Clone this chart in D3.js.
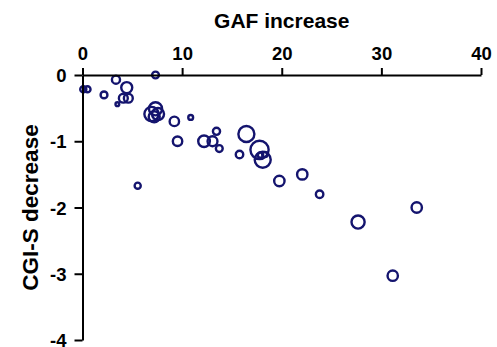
<!DOCTYPE html>
<html>
<head>
<meta charset="utf-8">
<script src="https://cdn.jsdelivr.net/npm/d3@7"></script>
<style>
  html, body { margin: 0; padding: 0; background: #fff; }
  svg text { font-family: Arial, "Liberation Sans", sans-serif; font-weight: bold; fill: #000; }
</style>
</head>
<body>
<svg id="chart" width="497" height="347"></svg>
<script>
// GAF increase (x)
const gafIncrease = [0.08, 0.5, 2.16, 3.36, 4.44, 4.1, 4.6, 3.5, 7.33, 6.93, 7.33, 7.58, 7.2,
  9.22, 10.86, 9.54, 12.2, 13.45, 13.05, 13.73, 16.45, 15.76, 17.77, 18.09, 17.87, 18.3,
  19.76, 22.06, 23.8, 27.66, 33.55, 31.14, 5.54];
// CGI-S decrease (y)
const cgisDecrease = [-0.215, -0.215, -0.30, -0.07, -0.19, -0.35, -0.35, -0.44, 0.0, -0.59, -0.51, -0.59, -0.63,
  -0.70, -0.64, -1.0, -1.0, -0.85, -1.0, -1.11, -0.89, -1.2, -1.13, -1.28, -1.21, -1.2,
  -1.6, -1.5, -1.8, -2.22, -2.0, -3.03, -1.67];
// study weight (bubble area)
const weights = [8, 8, 10, 14, 26, 17, 17, 3, 10, 44, 37, 31, 26,
  19, 5, 19, 29, 11, 21, 10, 55, 12, 71, 55, 6, 6,
  23, 23, 12, 37, 23, 23, 8];
const xTicks = [0, 10, 20, 30, 40];
const yTicks = [0, -1, -2, -3, -4];

const svg = d3.select("#chart");
const x = d3.scaleLinear().domain([0, 40]).range([82.5, 481]);
const y = d3.scaleLinear().domain([0, -4]).range([75, 340]);
const r = d3.scaleSqrt().domain([0, 100]).range([0, 10.8]);

const data = gafIncrease.map((g, i) => ({ x: g, y: cgisDecrease[i], w: weights[i] }));

// points
svg.append("g").selectAll("circle").data(data).join("circle")
  .attr("cx", d => x(d.x)).attr("cy", d => y(d.y)).attr("r", d => r(d.w))
  .attr("fill", "none").attr("stroke", "#14146e").attr("stroke-width", 2.4);

// x axis (top)
const xAxis = svg.append("g").attr("transform", `translate(0,${y(0)})`)
  .call(d3.axisTop(x).tickValues(xTicks).tickSizeInner(7).tickSizeOuter(0).tickPadding(8));
// y axis
const yAxis = svg.append("g").attr("transform", `translate(${x(0)},0)`)
  .call(d3.axisLeft(y).tickValues(yTicks).tickSizeInner(8).tickSizeOuter(0).tickPadding(8)
    .tickFormat(d => d === 0 ? "0" : "-" + Math.abs(d)));

[xAxis, yAxis].forEach(a => {
  a.select(".domain").attr("stroke", "#000").attr("stroke-width", 2);
  a.selectAll(".tick line").attr("stroke", "#000").attr("stroke-width", 2);
  a.selectAll(".tick text").attr("font-size", 18.5).attr("font-family", "Arial, 'Liberation Sans', sans-serif")
    .attr("font-weight", "bold").attr("fill", "#000");
});
yAxis.selectAll(".tick text").attr("dy", "0.36em");

// titles
svg.append("text").attr("x", (x(0) + x(40)) / 2).attr("y", 28)
  .attr("text-anchor", "middle").attr("font-size", 21).text("GAF increase");
svg.append("text").attr("transform", `translate(38,${(y(0) + y(-4)) / 2}) rotate(-90)`)
  .attr("text-anchor", "middle").attr("font-size", 22.5).text("CGI-S decrease");
</script>
</body>
</html>
